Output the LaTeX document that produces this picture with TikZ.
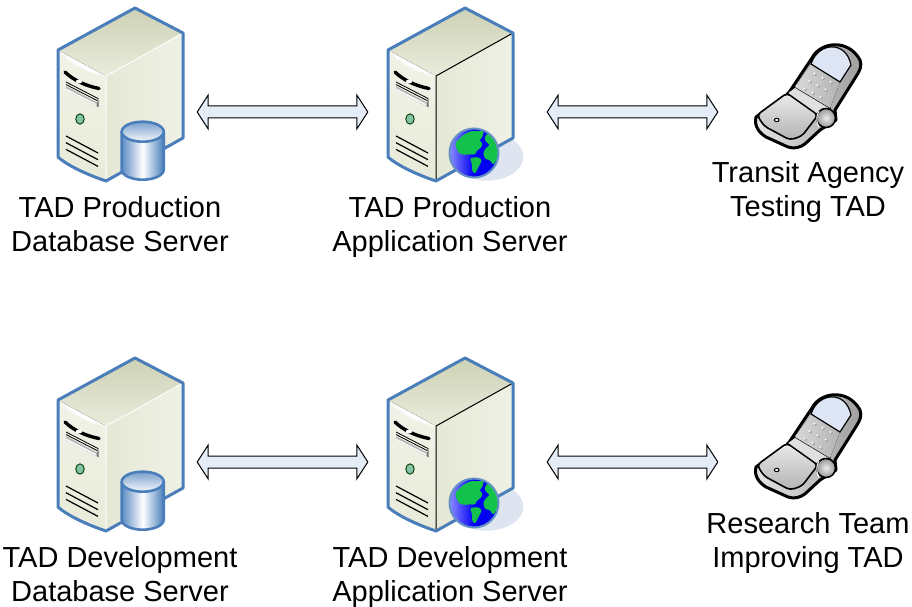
\documentclass[tikz,border=0pt]{standalone}
\usepackage{fontspec}
\setmainfont{Liberation Sans}
\usetikzlibrary{calc}

\definecolor{caseblue}{HTML}{4A7EBB}
\definecolor{arrowfill}{HTML}{E4ECF7}
\definecolor{globeshadow}{HTML}{DEE5F1}
\definecolor{landgreen}{HTML}{12C24A}
\definecolor{topback}{HTML}{CDD1B5}
\definecolor{topfront}{HTML}{EAECDC}
\definecolor{frontlight}{HTML}{F2F3E8}
\definecolor{frontdark}{HTML}{E8EAD9}
\definecolor{sidedark}{HTML}{E6E8D6}
\definecolor{ledgreen}{HTML}{84C3A3}
\definecolor{screenblue}{HTML}{DEE6F6}

\tikzset{
    iconbox/.style={inner sep=0pt,minimum height=10pt,minimum width=#1},
    caption/.style={align=center,font=\fontsize{29}{34}\selectfont,inner sep=0pt},
    fatarrow/.style={draw=black,fill=arrowfill,line width=1pt,to path={
        -- ++(11,-17) -- ++(0,11) -- ($(\tikztotarget)+(-11,-6)$) -- ++(0,-11)
        -- (\tikztotarget) -- ++(-11,17) -- ++(0,-11) -- ($(\tikztostart)+(11,6)$)
        -- ++(0,11) -- cycle}},
    pics/servercase/.style={code={
        \fill[top color=topback,bottom color=topfront] (0,42) -- (77,0) -- (125,25) -- (48,68) -- cycle;
        \fill[top color=frontlight,bottom color=frontdark] (0,42) .. controls (15,57) and (30,65) .. (48,68) -- (48,173) -- (15,158) -- (0,149) -- cycle;
        \fill[left color=sidedark,right color=frontdark!70!white] (48,68) -- (125,25) -- (125,130) -- (48,173) -- cycle;
        \draw[white,line width=.8pt] (0,42) .. controls (15,57) and (30,65) .. (48,68);
        \draw[#1,line width=1pt] (125,25) -- (48,68) -- (48,173);
        \fill[gray!55] (8,78) -- (40,95) -- (40,99) -- (8,82) -- cycle;
        \fill[white] (8,80.5) -- (38,96) -- (38,97.5) -- (8,82) -- cycle;
        \draw[black,line width=.8pt] (8,74) -- (40,90.5) -- (40,99);
        \draw[black,line width=.8pt] (8,76.5) -- (39,92.5);
        \draw[black,line width=3.4pt,line cap=round] (7,64) .. controls (15,72) and (28,78) .. (41,80.5);
        \fill[white] (21,73.5) ellipse [x radius=3.2,y radius=2];
        \draw[black!60!green!60!black,fill=ledgreen,line width=.9pt] (22,111) ellipse [x radius=4.2,y radius=5.2];
        \foreach \ventgap in {0,6.7,13.4} {
            \draw[black,line width=1.2pt] (8,128+\ventgap) -- (40,145+\ventgap);
        }
        \draw[caseblue,line width=3pt,line join=round] (0,42) -- (77,0) -- (125,25) -- (125,130) -- (48,173) .. controls (30,167) and (10,158) .. (0,149) -- cycle;
    }},
    pics/dbcylinder/.style={code={
        \path[left color=caseblue!90,right color=caseblue,middle color=white] (-21,0) -- (-21,38) arc[start angle=180,end angle=0,x radius=21,y radius=10] -- (21,0) -- cycle;
        \draw[caseblue,line width=2.6pt] (-21,0) -- (-21,38) arc[start angle=180,end angle=0,x radius=21,y radius=10] -- (21,0);
        \draw[caseblue,line width=2.6pt,top color=caseblue!75,bottom color=caseblue!5] (0,0) ellipse [x radius=21,y radius=10];
    }},
    pics/globeicon/.style={code={
        \fill[left color=blue!45,right color=blue!95!black,middle color=blue!95!black] (-25,-25) rectangle (25,25);
        \fill[landgreen,rounded corners=1.5pt] (-19,-10) -- (-11,-18) -- (-3,-22) -- (10,-22) -- (8,-15) -- (5,-13) -- (9,-9) -- (6,-4) -- (3,-3) -- (1,2) -- (-3,1) -- (-8,2) -- (-14,1) -- (-17,-3) -- cycle;
        \fill[landgreen,rounded corners=1.5pt] (-4,5) -- (4,4) -- (8,7) -- (5,13) -- (1,21) -- (-2,18) -- (-2,11) -- cycle;
        \fill[landgreen,rounded corners=1.5pt] (11,-17) -- (16,-21) -- (20,-14) -- (24,-9) -- (25,-2) -- (24,5) -- (19,12) -- (16,7) -- (11,6) -- (9,0) -- (12,-5) -- (16,-8) -- (11,-12) -- cycle;
    }},
    pics/phoneicon/.style={code={
        \draw[black,line width=3pt,line join=round,left color=black!10,right color=black!38] (16,87) -- (48,64) -- (72,28) .. controls (80,12) and (108,8) .. (120,30) .. controls (122,36) and (120,40) .. (117,45) -- (95,80) -- (96,90) -- (80,100) -- (66,113) .. controls (60,118) and (54,119) .. (48,117) -- (26,107) .. controls (18,102) and (14,95) .. (16,87) -- cycle;
        \draw[black,line width=1.6pt,rounded corners=4pt,top color=black!8,bottom color=black!30] (17,85) -- (47,63) -- (78,85) -- (62,106) -- (50,110) -- (24,96) -- cycle;
        \draw[black,line width=1.2pt,fill=black!12] (47,63) -- (55,57) -- (90,78) -- (78,85) -- cycle;
        \fill[left color=black!15,right color=black!30] (55,57) -- (71,34) -- (100,52) -- (90,78) -- cycle;
        \draw[black,line width=1.2pt,fill=screenblue] (71,34) .. controls (78,12) and (106,10) .. (111,35) -- (100,52) -- cycle;
        \foreach \keyrow in {0,1,2} {
            \foreach \keycol in {0,1,2} {
                \fill[black!35] (75+8*\keycol-5*\keyrow+.5,44+4.2*\keycol+7.5*\keyrow+.5) circle [radius=1.7];
                \fill[white] (75+8*\keycol-5*\keyrow-.5,44+4.2*\keycol+7.5*\keyrow-.5) circle [radius=1.1];
            }
        }
        \draw[black,line width=1.6pt,inner color=black!8,outer color=black!40] (86,88) circle [radius=9.5];
        \draw[white,line width=1pt] (79,81) .. controls (76,86) and (76,92) .. (79,97);
        \draw[black,line width=1pt,fill=white] (36.7,90) ellipse [x radius=2.4,y radius=1.7];
    }}
}

\begin{document}
\begin{tikzpicture}[x=1pt,y=-1pt]

\useasboundingbox (0,0) rectangle (912,607);

\foreach \rowy/\rowid/\dbtext/\apptext/\usertext in {
    0/prod/{TAD Production\\Database Server}/{TAD Production\\Application Server}/{Transit Agency\\Testing TAD},
    350/dev/{TAD Development\\Database Server}/{TAD Development\\Application Server}/{Research Team\\Improving TAD}} {

    \node[iconbox=154pt] (db-\rowid) at (120,112+\rowy) {};
    \node[iconbox=179pt] (app-\rowid) at (457.5,112+\rowy) {};
    \node[iconbox=180pt] (user-\rowid) at (808,112+\rowy) {};

    \pic at (58,8+\rowy) {servercase=white};
    \pic at (142.7,131.7+\rowy) {dbcylinder};

    \fill[globeshadow] (486.7,156.7+\rowy) ellipse [x radius=36.7,y radius=24];
    \pic at (388,8+\rowy) {servercase=black};
    \begin{scope}
        \clip (474,153+\rowy) circle [radius=24.5];
        \pic at (474,153+\rowy) {globeicon};
    \end{scope}
    \draw[caseblue!85,line width=2pt] (474,153+\rowy) circle [radius=24.5];

    \pic at (740,30+\rowy) {phoneicon};

    \node[caption] (dblabel-\rowid) at (120,224+\rowy) {\dbtext};
    \node[caption] (applabel-\rowid) at (450,227+\rowy) {\apptext};
    \node[caption] (userlabel-\rowid) at (808,192.5+\rowy) {\usertext};

    \draw[fatarrow] (db-\rowid.east) to (app-\rowid.west);
    \draw[fatarrow] (app-\rowid.east) to (user-\rowid.west);
}

\end{tikzpicture}
\end{document}
